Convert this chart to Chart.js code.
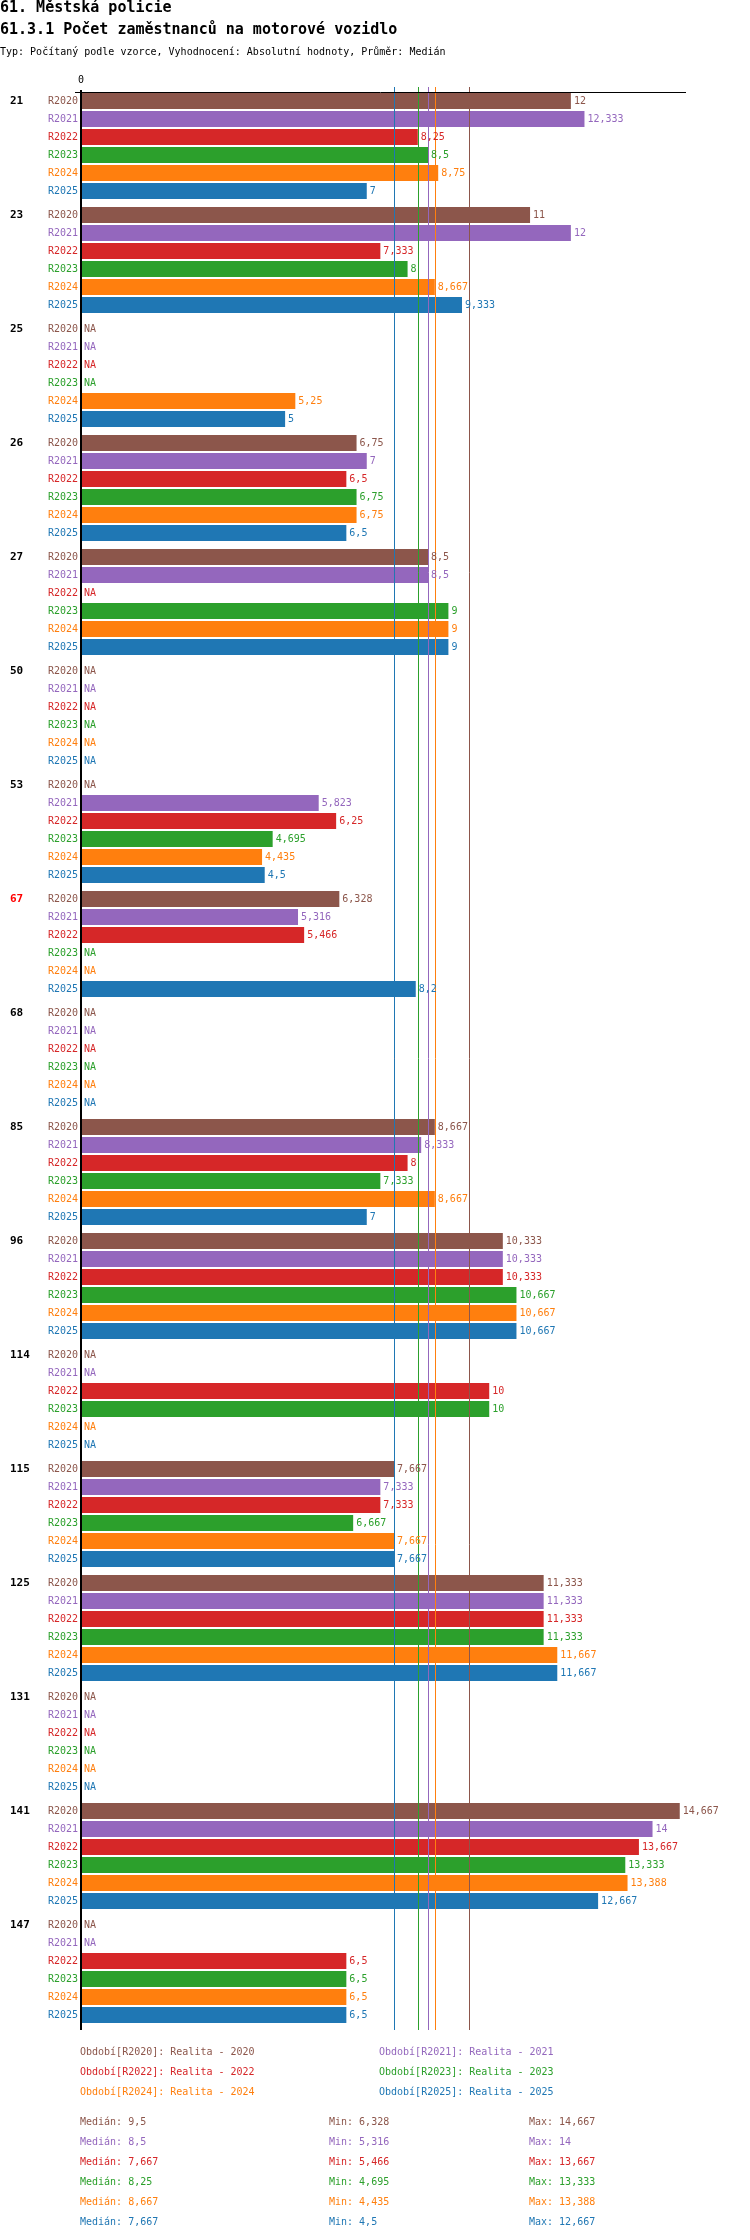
<!DOCTYPE html>
<html lang="cs">
<head>
<meta charset="utf-8">
<title>61.3.1 Počet zaměstnanců na motorové vozidlo</title>
<script src="https://cdn.jsdelivr.net/npm/chart.js@4.4.1/dist/chart.umd.min.js"></script>
<style>
  html, body { margin: 0; padding: 0; background: #fff; }
  body { width: 750px; height: 2240px; position: relative; overflow: hidden;
         font-family: "DejaVu Sans Mono", monospace; }
  #chartBox { position: absolute; left: 0; top: 0; width: 750px; height: 2240px; }
  .t { position: absolute; white-space: pre; line-height: 1; }
  .big { font-size: 15px; font-weight: bold; color: #000; }
  .small { font-size: 10px; }
</style>
</head>
<body>
<div id="chartBox"><canvas id="myChart" width="750" height="2240"></canvas></div>

<div class="t big" style="left:0;top:0px">61. Městská policie</div>
<div class="t big" style="left:0;top:22px">61.3.1 Počet zaměstnanců na motorové vozidlo</div>
<div class="t small" style="left:0;top:47px;color:#000">Typ: Počítaný podle vzorce, Vyhodnocení: Absolutní hodnoty, Průměr: Medián</div>
<div id="legend"></div>

<script>
// data
const groups = ['21', '23', '25', '26', '27', '50', '53', '67', '68', '85', '96', '114', '115', '125', '131', '141', '147'];
const periods = ['R2020', 'R2021', 'R2022', 'R2023', 'R2024', 'R2025'];
const periodNames = ['Realita - 2020', 'Realita - 2021', 'Realita - 2022', 'Realita - 2023', 'Realita - 2024', 'Realita - 2025'];

const r2020 = [12, 11, null, 6.75, 8.5, null, null, 6.328, null, 8.667, 10.333, null, 7.667, 11.333, null, 14.667, null];
const r2021 = [12.333, 12, null, 7, 8.5, null, 5.823, 5.316, null, 8.333, 10.333, null, 7.333, 11.333, null, 14, null];
const r2022 = [8.25, 7.333, null, 6.5, null, null, 6.25, 5.466, null, 8, 10.333, 10, 7.333, 11.333, null, 13.667, 6.5];
const r2023 = [8.5, 8, null, 6.75, 9, null, 4.695, null, null, 7.333, 10.667, 10, 6.667, 11.333, null, 13.333, 6.5];
const r2024 = [8.75, 8.667, 5.25, 6.75, 9, null, 4.435, null, null, 8.667, 10.667, null, 7.667, 11.667, null, 13.388, 6.5];
const r2025 = [7, 9.333, 5, 6.5, 9, null, 4.5, 8.2, null, 7, 10.667, null, 7.667, 11.667, null, 12.667, 6.5];

const medians = [9.5, 8.5, 7.667, 8.25, 8.667, 7.667];
const mins = [6.328, 5.316, 5.466, 4.695, 4.435, 4.5];
const maxs = [14.667, 14, 13.667, 13.333, 13.388, 12.667];

const series = [r2020, r2021, r2022, r2023, r2024, r2025];
const colors = ['#8c564b', '#9467bd', '#d62728', '#2ca02c', '#ff7f0e', '#1f77b4'];
const highlightGroup = '67';

function fmt(v) {
  return String(v).replace('.', ',');
}

// labels, median lines and axis lines drawn on top of the bars
const decor = {
  id: 'decor',
  afterDatasetsDraw(chart) {
    const ctx = chart.ctx;
    const x = chart.scales.x;
    const x0 = x.getPixelForValue(0);
    const lineTop = chart.chartArea.top - 2;
    const lineBottom = chart.chartArea.bottom + 3;
    ctx.save();

    // median lines
    medians.forEach(function(m, k) {
      const px = Math.round(x.getPixelForValue(m)) + 0.5;
      ctx.strokeStyle = colors[k];
      ctx.lineWidth = 1;
      ctx.beginPath();
      ctx.moveTo(px, lineTop);
      ctx.lineTo(px, lineBottom);
      ctx.stroke();
    });

    // axis lines
    ctx.strokeStyle = '#000';
    ctx.lineWidth = 1;
    ctx.beginPath();
    ctx.moveTo(x0 - 6, chart.chartArea.top + 3.5);
    ctx.lineTo(x.right, chart.chartArea.top + 3.5);
    ctx.stroke();
    ctx.lineWidth = 2;
    ctx.beginPath();
    ctx.moveTo(x0, chart.chartArea.top + 1);
    ctx.lineTo(x0, lineBottom);
    ctx.stroke();

    ctx.textBaseline = 'middle';
    ctx.font = '10px "DejaVu Sans Mono"';
    ctx.fillStyle = '#000';
    ctx.textAlign = 'center';
    ctx.fillText('0', x0, chart.chartArea.top - 9);

    series.forEach(function(vals, k) {
      const meta = chart.getDatasetMeta(k);
      vals.forEach(function(v, i) {
        const el = meta.data[i];
        ctx.fillStyle = colors[k];
        ctx.font = '10px "DejaVu Sans Mono"';
        ctx.textAlign = 'right';
        ctx.fillText(periods[k], x0 - 3, el.y);
        ctx.textAlign = 'left';
        if (v === null) {
          ctx.fillText('NA', x0 + 3, el.y);
        } else {
          ctx.fillText(fmt(v), el.x + 3, el.y);
        }
        if (k === 0) {
          ctx.font = 'bold 11px "DejaVu Sans Mono"';
          ctx.fillStyle = groups[i] === highlightGroup ? '#ff0000' : '#000';
          ctx.fillText(groups[i], 10, el.y);
        }
      });
    });
    ctx.restore();
  }
};

const data = {
  labels: groups,
  datasets: series.map(function(vals, k) {
    return {
      label: periods[k],
      data: vals,
      backgroundColor: colors[k],
      borderWidth: 0,
      barPercentage: 16 / 18,
      categoryPercentage: 108 / 114
    };
  })
};

const config = {
  type: 'bar',
  data: data,
  options: {
    indexAxis: 'y',
    responsive: false,
    animation: false,
    devicePixelRatio: 1,
    layout: { padding: { left: 81, right: 64, top: 89, bottom: 213 } },
    plugins: { legend: { display: false }, tooltip: { enabled: false } },
    scales: {
      x: { type: 'linear', display: false, min: 0, max: 14.82 },
      y: { type: 'category', display: false }
    }
  },
  plugins: [decor]
};

const myChart = new Chart(document.getElementById('myChart'), config);

// legend and summary rows under the chart
const legend = document.getElementById('legend');
periods.forEach(function(p, k) {
  const d = document.createElement('div');
  d.className = 't small';
  d.style.color = colors[k];
  d.style.left = (k % 2 === 0 ? 80 : 379) + 'px';
  d.style.top = (2047 + Math.floor(k / 2) * 20) + 'px';
  d.textContent = 'Období[' + p + ']: ' + periodNames[k];
  legend.appendChild(d);
});
periods.forEach(function(p, k) {
  const cells = [['Medián: ' + fmt(medians[k]), 80], ['Min: ' + fmt(mins[k]), 329], ['Max: ' + fmt(maxs[k]), 529]];
  cells.forEach(function(c) {
    const d = document.createElement('div');
    d.className = 't small';
    d.style.color = colors[k];
    d.style.left = c[1] + 'px';
    d.style.top = (2117 + k * 20) + 'px';
    d.textContent = c[0];
    legend.appendChild(d);
  });
});
</script>
</body>
</html>
